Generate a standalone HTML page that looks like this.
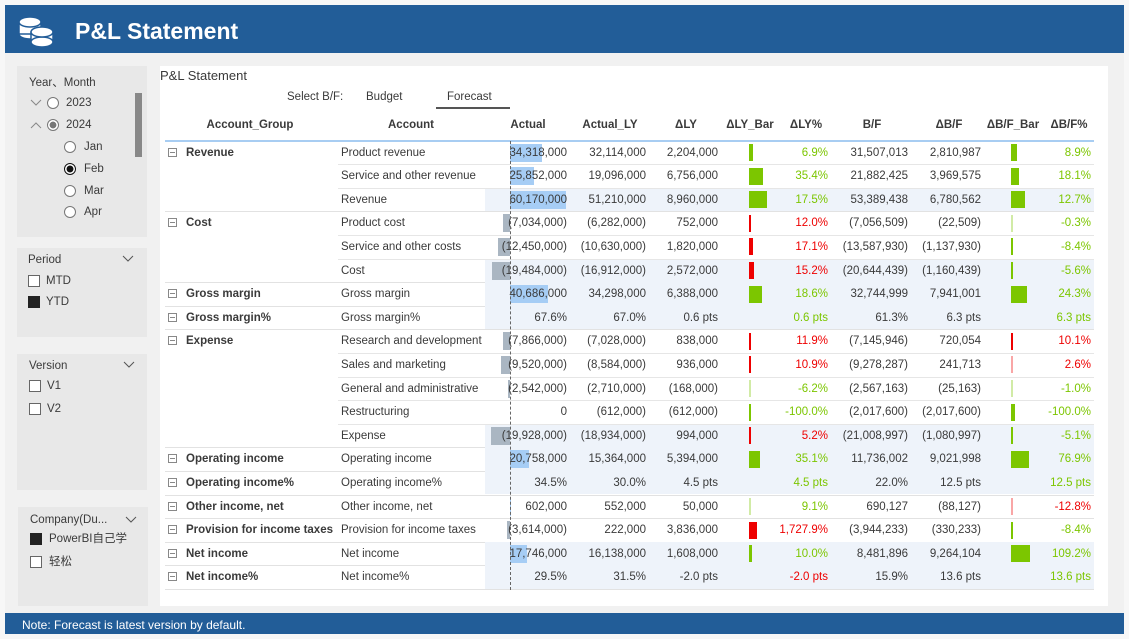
<!DOCTYPE html>
<html><head><meta charset="utf-8">
<style>
*{margin:0;padding:0;box-sizing:border-box}
body{width:1129px;height:639px;position:relative;background:#f7f7f7;font-family:"Liberation Sans","Noto Sans CJK SC",sans-serif;color:#3a3a3a;overflow:hidden;font-size:11.5px}
.abs{position:absolute}
.panel{position:absolute;background:#e8e8e8}
.t{position:absolute;white-space:nowrap;line-height:14px}
.rad{position:absolute;width:12px;height:12px;border:1px solid #777;border-radius:50%;background:#fff}
.chk{position:absolute;width:12px;height:12px;border:1px solid #666;background:#fff}
.chev{position:absolute}
</style></head><body>
<div class="abs" style="left:5px;top:53px;width:1119px;height:560px;background:#f1f1f1"></div>
<div class="abs" style="left:5px;top:5px;width:1119px;height:48px;background:#225d98"></div>
<svg class="abs" style="left:17px;top:14px" width="40" height="34" viewBox="0 0 40 34">
<g fill="#fff" stroke="#225d98" stroke-width="1.5"><ellipse cx="13" cy="20" rx="11" ry="5"/><rect x="2" y="8" width="22" height="12"/><ellipse cx="13" cy="8" rx="11" ry="5"/><rect x="14" y="18" width="22" height="10"/><ellipse cx="25" cy="28" rx="11" ry="5"/><ellipse cx="25" cy="18" rx="11" ry="5"/></g></svg>
<div class="t" style="left:75px;top:17px;font-size:23px;line-height:28px;font-weight:bold;color:#fff">P&amp;L Statement</div>

<div class="panel" style="left:17px;top:66px;width:130px;height:171px"></div>
<div class="t" style="left:29px;top:76px">Year、Month</div>
<div class="abs" style="left:135px;top:93px;width:7px;height:64px;background:#888"></div>
<svg class="chev" style="left:30px;top:99px" width="12" height="8"><polyline points="1,1 6,6 11,1" fill="none" stroke="#888"/></svg>
<div class="rad" style="left:47px;top:97px"></div>
<div class="t" style="left:66px;top:96px">2023</div>
<svg class="chev" style="left:30px;top:121px" width="12" height="8"><polyline points="1,7 6,2 11,7" fill="none" stroke="#888"/></svg>
<div class="rad" style="left:47px;top:119px;background:radial-gradient(#777 45%,#fff 50%)"></div>
<div class="t" style="left:66px;top:118px">2024</div>
<div class="rad" style="left:64px;top:141px"></div>
<div class="t" style="left:84px;top:140px">Jan</div>
<div class="rad" style="left:64px;top:163px;background:radial-gradient(#111 45%,#fff 52%);border-color:#111"></div>
<div class="t" style="left:84px;top:162px">Feb</div>
<div class="rad" style="left:64px;top:185px"></div>
<div class="t" style="left:84px;top:184px">Mar</div>
<div class="rad" style="left:64px;top:206px"></div>
<div class="t" style="left:84px;top:205px">Apr</div>

<div class="panel" style="left:17px;top:248px;width:130px;height:89px"></div>
<div class="t" style="left:28px;top:253px">Period</div>
<svg class="chev" style="left:122px;top:255px" width="12" height="8"><polyline points="1,1 6,6 11,1" fill="none" stroke="#555"/></svg>
<div class="chk" style="left:28px;top:275px"></div>
<div class="t" style="left:46px;top:274px">MTD</div>
<div class="chk" style="left:28px;top:296px;background:#222;border-color:#222"></div>
<div class="t" style="left:46px;top:295px">YTD</div>

<div class="panel" style="left:17px;top:354px;width:130px;height:136px"></div>
<div class="t" style="left:29px;top:359px">Version</div>
<svg class="chev" style="left:123px;top:361px" width="12" height="8"><polyline points="1,1 6,6 11,1" fill="none" stroke="#555"/></svg>
<div class="chk" style="left:29px;top:380px"></div>
<div class="t" style="left:47px;top:379px">V1</div>
<div class="chk" style="left:29px;top:403px"></div>
<div class="t" style="left:47px;top:402px">V2</div>

<div class="panel" style="left:18px;top:507px;width:130px;height:99px"></div>
<div class="t" style="left:30px;top:513px">Company(Du...</div>
<svg class="chev" style="left:125px;top:516px" width="12" height="8"><polyline points="1,1 6,6 11,1" fill="none" stroke="#555"/></svg>
<div class="chk" style="left:30px;top:533px;background:#222;border-color:#222"></div>
<div class="t" style="left:49px;top:532px">PowerBI自己学</div>
<div class="chk" style="left:30px;top:556px"></div>
<div class="t" style="left:49px;top:555px">轻松</div>

<div class="abs" style="left:160px;top:66px;width:948px;height:540px;background:#fff"></div>
<div class="t" style="left:160px;top:68px;font-size:13px;line-height:16px">P&amp;L Statement</div>
<div class="t" style="left:287px;top:90px">Select B/F:</div>
<div class="t" style="left:366px;top:90px">Budget</div>
<div class="t" style="left:447px;top:90px">Forecast</div>
<div class="abs" style="left:436px;top:107px;width:74px;height:2px;background:#555"></div>

<div id="tbl"></div>

<div class="abs" style="left:5px;top:613px;width:1119px;height:21px;background:#225d98"></div>
<div class="t" style="left:22px;top:618px;color:#fff;font-size:12px">Note: Forecast is latest version by default.</div>

<script>
const groups=["Revenue","Cost","Gross margin","Gross margin%","Expense","Operating income","Operating income%","Other income, net","Provision for income taxes","Net income","Net income%"];
const groupSizes=[3,3,1,1,5,1,1,1,1,1,1];
const accounts=["Product revenue","Service and other revenue","Revenue","Product cost","Service and other costs","Cost","Gross margin","Gross margin%","Research and development","Sales and marketing","General and administrative","Restructuring","Expense","Operating income","Operating income%","Other income, net","Provision for income taxes","Net income","Net income%"];
const isTotal=[0,0,1,0,0,1,1,1,0,0,0,0,1,1,1,0,0,1,1];
const isPct=[0,0,0,0,0,0,0,1,0,0,0,0,0,0,1,0,0,0,1];
const actual=[34318000,25852000,60170000,-7034000,-12450000,-19484000,40686000,67.6,-7866000,-9520000,-2542000,0,-19928000,20758000,34.5,602000,-3614000,17746000,29.5];
const actualLY=[32114000,19096000,51210000,-6282000,-10630000,-16912000,34298000,67.0,-7028000,-8584000,-2710000,-612000,-18934000,15364000,30.0,552000,222000,16138000,31.5];
const deltaLY=[2204000,6756000,8960000,752000,1820000,2572000,6388000,0.6,838000,936000,-168000,-612000,994000,5394000,4.5,50000,3836000,1608000,-2.0];
const deltaLYpct=[6.9,35.4,17.5,12.0,17.1,15.2,18.6,0.6,11.9,10.9,-6.2,-100.0,5.2,35.1,4.5,9.1,1727.9,10.0,-2.0];
const lyGood=[1,1,1,0,0,0,1,1,0,0,1,1,0,1,1,1,0,1,0];
const bf=[31507013,21882425,53389438,-7056509,-13587930,-20644439,32744999,61.3,-7145946,-9278287,-2567163,-2017600,-21008997,11736002,22.0,690127,-3944233,8481896,15.9];
const deltaBF=[2810987,3969575,6780562,-22509,-1137930,-1160439,7941001,6.3,720054,241713,-25163,-2017600,-1080997,9021998,12.5,-88127,-330233,9264104,13.6];
const deltaBFpct=[8.9,18.1,12.7,-0.3,-8.4,-5.6,24.3,6.3,10.1,2.6,-1.0,-100.0,-5.1,76.9,12.5,-12.8,-8.4,109.2,13.6];
const bfGood=[1,1,1,1,1,1,1,1,0,0,1,1,1,1,1,0,1,1,1];

const tbl=document.getElementById('tbl');
const GREEN='#7cc600',RED='#ee0000';
const rowTop=i=>140.5+i*23.6;
const xActualBase=510;
const actScale=v=>Math.abs(v)/1e6*0.93;
const barScale=v=>Math.max(1.5,Math.abs(v)/1e6*2);
function fmt(v){const s=Math.round(Math.abs(v)).toLocaleString('en-US');return v<0?'('+s+')':s;}
function fmtPct(v){const s=Math.abs(v).toLocaleString('en-US',{minimumFractionDigits:1,maximumFractionDigits:1});return (v<0?'-':'')+s+'%';}
function fmtPts(v){return v.toFixed(1)+' pts';}
function add(tag,style,text){const e=document.createElement(tag);e.style.cssText=style;if(text!==undefined)e.textContent=text;tbl.appendChild(e);return e;}

const heads=[["Account_Group",250],["Account",411],["Actual",528],["Actual_LY",610],["ΔLY",686],["ΔLY_Bar",750],["ΔLY%",806],["B/F",872],["ΔB/F",949],["ΔB/F_Bar",1013],["ΔB/F%",1069]];
heads.forEach(h=>{const e=add('div',`position:absolute;left:${h[1]-60}px;width:120px;top:118px;text-align:center;font-weight:bold;line-height:14px`,h[0]);

});
let hl=add('div','position:absolute;left:165px;top:140px;width:929px;height:2px;background:#a8cdf2');



let idx=0;
groups.forEach((g,gi)=>{
  const start=idx;
  const gl=add('div',`position:absolute;left:186px;top:${rowTop(start)+5}px;font-weight:bold;line-height:14px;white-space:nowrap`,g);
  
  
  const ic=add('div',`position:absolute;left:168px;top:${rowTop(start)+7}px;width:9px;height:9px;border:1px solid #888;`);
  ic.innerHTML='<div style="position:absolute;left:1px;top:3px;width:5px;height:1px;background:#888"></div>';
  
  
  for(let k=0;k<groupSizes[gi];k++){
    const i=idx++;const top=rowTop(i);
    if(isTotal[i]){const s=add('div',`position:absolute;left:485px;top:${top}px;width:609px;height:23.6px;background:#eef3fa`);
      
      }
    if(k>0){const l=add('div',`position:absolute;left:338px;top:${top}px;width:756px;height:1px;background:#e6e6e6`);
      
      }
    const ty=top+5;
    const a=add('div',`position:absolute;left:341px;top:${ty}px;line-height:14px;white-space:nowrap`,accounts[i]);
    
    
    if(!isPct[i]&&actual[i]!==0){
      const w=actScale(actual[i]);const pos=actual[i]>0;
      const b=add('div',`position:absolute;left:${pos?xActualBase:xActualBase-w}px;top:${top+3}px;width:${w}px;height:18px;background:${pos?'#a6cdf5':'#aab6c2'}`);
      
      
    }
    const cell=(txt,right,color,name)=>{const e=add('div',`position:absolute;right:${1129-right}px;top:${ty}px;line-height:14px;white-space:nowrap;color:${color}`,txt);
      
      };
    const P=isPct[i];
    cell(P?fmtPct(actual[i]):fmt(actual[i]),567,'#3a3a3a','actual-value');
    cell(P?fmtPct(actualLY[i]):fmt(actualLY[i]),646,'#3a3a3a','actual-ly-value');
    cell(P?fmtPts(deltaLY[i]):fmt(deltaLY[i]),718,'#3a3a3a','delta-ly-value');
    cell(P?fmtPts(deltaLY[i]):fmtPct(deltaLYpct[i]),828,lyGood[i]?GREEN:RED,'delta-ly-pct-value');
    cell(P?fmtPct(bf[i]):fmt(bf[i]),908,'#3a3a3a','bf-value');
    cell(P?fmtPts(deltaBF[i]):fmt(deltaBF[i]),981,'#3a3a3a','delta-bf-value');
    cell(P?fmtPts(deltaBF[i]):fmtPct(deltaBFpct[i]),1091,bfGood[i]?GREEN:RED,'delta-bf-pct-value');
    if(!P){
      const w1=barScale(deltaLY[i]);
      const b1=add('div',`position:absolute;left:749px;top:${top+3.5}px;width:${w1}px;height:17px;background:${lyGood[i]?GREEN:RED};opacity:${Math.abs(deltaLY[i])<300000?0.35:1}`);
      
      
      const w2=barScale(deltaBF[i]);
      const b2=add('div',`position:absolute;left:1011px;top:${top+3.5}px;width:${w2}px;height:17px;background:${bfGood[i]?GREEN:RED};opacity:${Math.abs(deltaBF[i])<300000?0.35:1}`);
      
      
    }
  }
  const gsep=add('div',`position:absolute;left:165px;top:${rowTop(idx)}px;width:929px;height:1px;background:#e2e2e2`);
  
  
});
const ax=add('div',`position:absolute;left:${xActualBase}px;top:141px;width:0;height:449px;border-left:1px dashed #666`);


</script>
</body></html>
